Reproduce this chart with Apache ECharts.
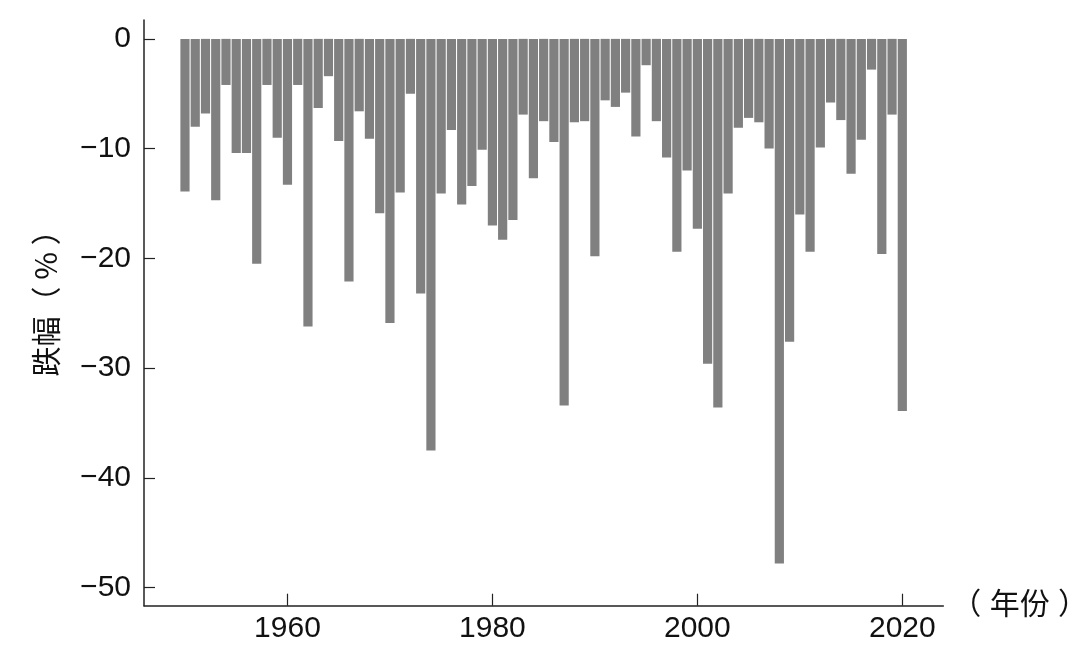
<!DOCTYPE html>
<html>
<head>
<meta charset="utf-8">
<script src="https://cdn.jsdelivr.net/npm/echarts@6/dist/echarts.min.js"></script>
<style>
html,body{margin:0;padding:0;background:#fff;}
#c{width:1090px;height:660px;}
</style>
</head>
<body>
<div id="c"></div>
<script>
const years = [1950,1951,1952,1953,1954,1955,1956,1957,1958,1959,
  1960,1961,1962,1963,1964,1965,1966,1967,1968,1969,
  1970,1971,1972,1973,1974,1975,1976,1977,1978,1979,
  1980,1981,1982,1983,1984,1985,1986,1987,1988,1989,
  1990,1991,1992,1993,1994,1995,1996,1997,1998,1999,
  2000,2001,2002,2003,2004,2005,2006,2007,2008,2009,
  2010,2011,2012,2013,2014,2015,2016,2017,2018,2019,2020];
const drops = [-13.9,-8.0,-6.8,-14.7,-4.2,-10.4,-10.4,-20.5,-4.2,-9.0,
  -13.3,-4.2,-26.2,-6.3,-3.4,-9.3,-22.1,-6.6,-9.1,-15.9,
  -25.9,-14.0,-5.0,-23.2,-37.5,-14.1,-8.3,-15.1,-13.4,-10.1,
  -17.0,-18.3,-16.5,-6.9,-12.7,-7.5,-9.4,-33.4,-7.6,-7.5,
  -19.8,-5.6,-6.2,-4.9,-8.9,-2.4,-7.5,-10.8,-19.4,-12.0,
  -17.3,-29.6,-33.6,-14.1,-8.1,-7.2,-7.6,-10.0,-47.8,-27.6,
  -16.0,-19.4,-9.9,-5.8,-7.4,-12.3,-9.2,-2.8,-19.6,-6.9,-33.9];
const xTicks = [1960,1980,2000,2020];
const yTicks = [-50,-40,-30,-20,-10,0];

const font = "'Liberation Sans','Noto Sans CJK SC',sans-serif";
const chart = echarts.init(document.getElementById('c'), null, {renderer:'canvas'});
chart.setOption({
  animation:false,
  backgroundColor:'#ffffff',
  grid:{left:144, right:146.7, top:20, bottom:54.3, containLabel:false, outerBoundsMode:'none'},
  xAxis:{
    type:'value', min:1946, max:2024,
    name:'（ 年份 ）', nameLocation:'end', nameGap:8,
    nameTextStyle:{fontSize:30, color:'#111', fontFamily:font, verticalAlign:'middle', padding:[30,0,0,0]},
    axisLine:{show:true, onZero:false, lineStyle:{color:'#222', width:1.5}},
    axisTick:{show:true, inside:true, length:12, customValues:xTicks, lineStyle:{color:'#222', width:1.2}},
    axisLabel:{customValues:xTicks, fontSize:30, color:'#111', fontFamily:font, margin:8, formatter:v=>String(v)},
    splitLine:{show:false}
  },
  yAxis:{
    type:'value', min:-51.65, max:1.72,
    name:'跌幅（ % ）', nameLocation:'middle', nameRotate:90, nameGap:83,
    nameTextStyle:{fontSize:30, color:'#111', fontFamily:"'Noto Sans CJK SC','Liberation Sans',sans-serif", padding:[0,0,0,34]},
    axisLine:{show:true, lineStyle:{color:'#222', width:1.5}},
    axisTick:{show:true, inside:true, length:11, customValues:yTicks, lineStyle:{color:'#222', width:1.2}},
    axisLabel:{customValues:yTicks, fontSize:30, color:'#111', fontFamily:font, margin:13,
      formatter:v=> v<0 ? '\u2212'+Math.abs(v) : String(v)},
    splitLine:{show:false}
  },
  series:[{
    type:'bar',
    data: years.map((y,i)=>[y, drops[i]]),
    barWidth:9.2,
    itemStyle:{color:'#808080'},
    silent:true
  }]
});
</script>
</body>
</html>
